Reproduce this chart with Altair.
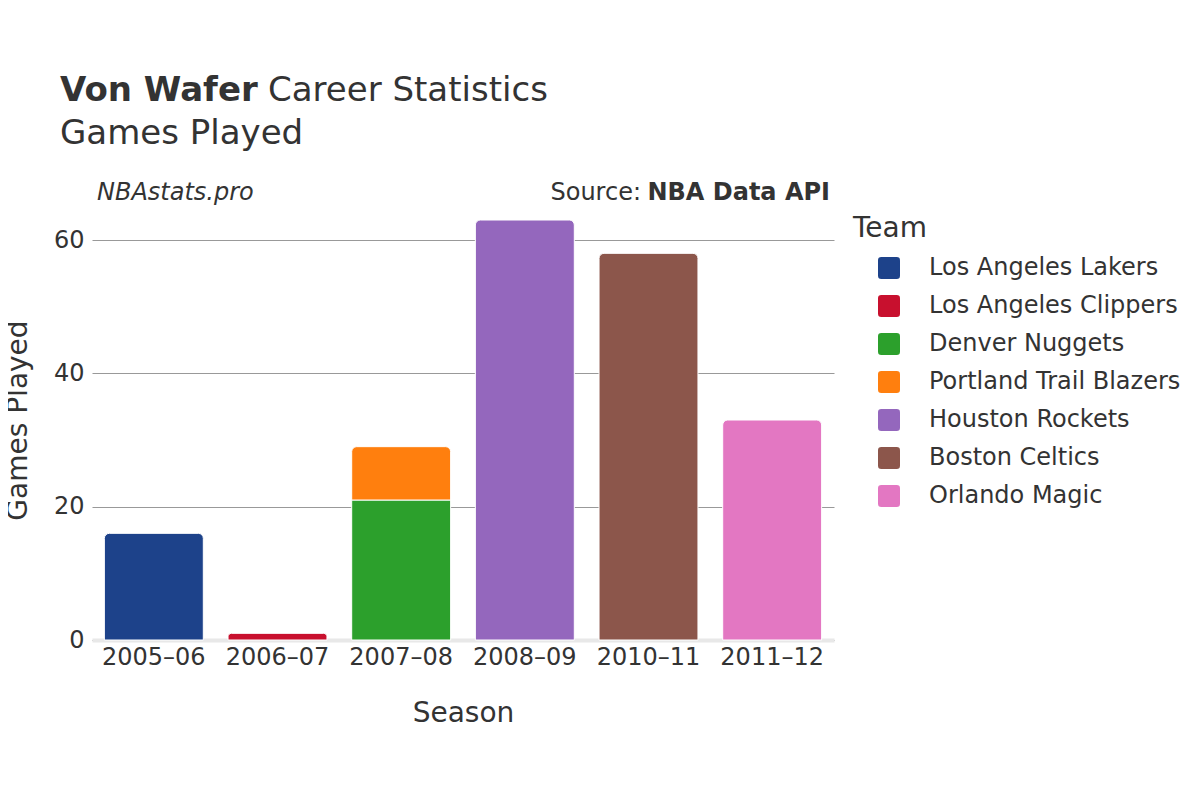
import altair as alt
import pandas as pd

seasons = ["2005–06", "2006–07", "2007–08", "2007–08", "2008–09", "2010–11", "2011–12"]
teams = ["Los Angeles Lakers", "Los Angeles Clippers", "Denver Nuggets", "Portland Trail Blazers",
         "Houston Rockets", "Boston Celtics", "Orlando Magic"]
games = [16, 1, 21, 8, 63, 58, 33]
team_order = ["Los Angeles Lakers", "Los Angeles Clippers", "Denver Nuggets", "Portland Trail Blazers",
              "Houston Rockets", "Boston Celtics", "Orlando Magic"]
team_colors = ["#1d428a", "#c8102e", "#2ca02c", "#ff7f0e", "#9467bd", "#8c564b", "#e377c2"]
season_order = ["2005–06", "2006–07", "2007–08", "2008–09", "2010–11", "2011–12"]

df = pd.DataFrame({"Season": seasons, "Team": teams, "Games": games})
df["order"] = [team_order.index(t) for t in df["Team"]]

FONT = "DejaVu Sans"
rounded = "M-0.7,-1H0.7Q1,-1 1,-0.7V0.7Q1,1 0.7,1H-0.7Q-1,1 -1,0.7V-0.7Q-1,-1 -0.7,-1Z"

base = alt.Chart(df).transform_stack(
    stack="Games", as_=["g0", "g1"], groupby=["Season"], sort=[alt.SortField("order", order="ascending")]
).transform_joinaggregate(
    top="max(g1)", groupby=["Season"]
).transform_calculate(
    is_top="datum.g1 == datum.top"
)

x_enc = alt.X("Season:N", sort=season_order, scale=alt.Scale(paddingInner=0.2, paddingOuter=0.1),
              axis=alt.Axis(title="Season", labelAngle=0, labelFontSize=24, titleFontSize=28,
                            labelColor="#333333", titleColor="#333333", labelFont=FONT, titleFont=FONT,
                            ticks=False, domainColor="#e8e8e8", domainWidth=4, labelPadding=5,
                            titlePadding=30, titleFontWeight="normal"))
y_enc = alt.Y("g0:Q", scale=alt.Scale(domain=[0, 66], nice=False),
              axis=alt.Axis(title="Games Played", values=[0, 20, 40, 60], labelFontSize=24,
                            titleFontSize=28, labelColor="#333333", titleColor="#333333",
                            labelFont=FONT, titleFont=FONT, ticks=False, domain=False,
                            gridColor="#999999", gridWidth=1, labelPadding=8, titlePadding=21,
                            titleFontWeight="normal"))
color_enc = alt.Color("Team:N", scale=alt.Scale(domain=team_order, range=team_colors),
                      sort=team_order,
                      legend=alt.Legend(title="Team", orient="none", legendX=761, legendY=15,
                                        titleFontSize=28, labelFontSize=24, titleFont=FONT,
                                        labelFont=FONT, titleColor="#333333", labelColor="#333333",
                                        titleFontWeight="normal", symbolType=rounded, symbolSize=484,
                                        symbolStrokeWidth=0, symbolOpacity=1, labelOffset=28,
                                        rowPadding=14, titlePadding=13, padding=0, offset=0,
                                        symbolOffset=24, labelLimit=400))

bars_top = base.transform_filter("datum.is_top").mark_bar(
    cornerRadiusTopLeft=5, cornerRadiusTopRight=5, stroke="white", strokeWidth=1
).encode(x=x_enc, y=y_enc, y2="g1:Q", color=color_enc)

bars_bottom = base.transform_filter("!datum.is_top").mark_bar(
    stroke="white", strokeWidth=1
).encode(x=x_enc, y=y_enc, y2="g1:Q", color=color_enc)

one = pd.DataFrame({"a": [0]})
def txt(text, x, y, size, weight="normal", style="normal", align="left", color="#333333"):
    return alt.Chart(one).mark_text(
        text=text, fontSize=size, fontWeight=weight, fontStyle=style, align=align,
        baseline="alphabetic", font=FONT, color=color
    ).encode(x=alt.value(x), y=alt.value(y))

title1 = txt("Von Wafer", -32, -99, 34, weight="bold")
title2 = txt("Career Statistics", 176, -99, 34)
subtitle = txt("Games Played", -32, -56, 34)
note_l = txt("NBAstats.pro", 5, 0, 24, style="italic")
note_r1 = txt("NBA Data API", 738, 0, 24, weight="bold", align="right")
note_r2 = txt("Source:", 549, 0, 24, align="right")

chart = alt.layer(bars_bottom, bars_top, title1, title2, subtitle, note_l, note_r1, note_r2).properties(
    width=742, height=440,
    autosize=alt.AutoSizeParams(type="none"),
    padding={"left": 84, "top": 192, "right": 350, "bottom": 150},
    background="white",
).configure_view(strokeWidth=0, stroke=None)

chart.save("out.html", embed_options={"renderer": "svg", "actions": False})
